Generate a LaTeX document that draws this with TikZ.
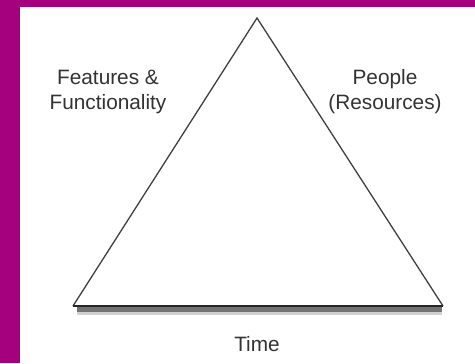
\documentclass[tikz,border=0pt]{standalone}
\usepackage{fontspec}
\setmainfont{Liberation Sans}
\usepackage{xcolor}
\usepackage{tikz}
\usetikzlibrary{positioning}
\definecolor{framepink}{RGB}{165,0,125}

\begin{document}
\begin{tikzpicture}[
  x=0.5pt, y=-0.5pt,
  every node/.style={align=center, inner sep=0pt, text=black!80,
    font=\fontsize{10.4}{12.5}\selectfont},
  side/.style={draw=black!75, line width=0.65pt, line join=miter},
  base/.style={draw=black!85, line width=1pt},
  baseshadow/.style={draw=black!55, line width=2.6pt},
  baseglow/.style={draw=black!18, line width=4.5pt}
]

\fill[framepink] (0,0) rectangle (475,363);
\fill[white] (20,7) rectangle (475,363);
\useasboundingbox (0,0) rectangle (475,363);

\coordinate (apex) at (257,18);
\coordinate (lcorner) at (73,306);
\coordinate (rcorner) at (443,306);
\coordinate (lshadow) at (77,310);
\coordinate (rshadow) at (442,310);

% shadow under the base
\draw[baseglow] (lshadow) -- (rshadow);
\draw[baseshadow] ([yshift=0.5pt]lshadow) -- ([yshift=0.5pt]rshadow);

\draw[side] (lcorner) -- (apex) -- (rcorner);
\draw[base] (lcorner) -- (rcorner);

\node (features) at (108,92) {Features \&\\Functionality};
\node (people) at (385,92) {People\\(Resources)};
\node (time) at (257,344) {Time};

\end{tikzpicture}
\end{document}
